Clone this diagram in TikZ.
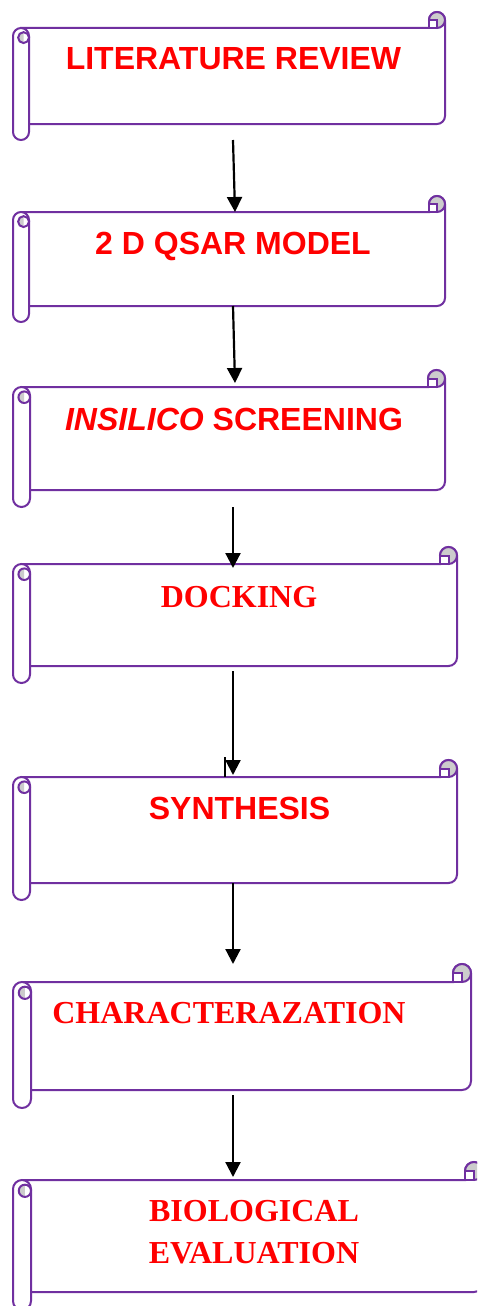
\documentclass[tikz,border=0pt]{standalone}
\usepackage{fontspec}
\setmainfont{Liberation Serif}
\setsansfont{Liberation Sans}
\usepackage{xcolor}
\usetikzlibrary{arrows.meta}

\definecolor{scrollline}{HTML}{7030A0}
\definecolor{curlfill}{HTML}{CCCCCC}
\definecolor{steptext}{HTML}{FF0000}

% horizontal scroll: #1 left, #2 top, #3 right, #4 bottom, #5 curl size (y counted downwards)
\newcommand{\hscroll}[5]{%
  \pgfmathsetmacro{\scrL}{#1}\pgfmathsetmacro{\scrT}{#2}%
  \pgfmathsetmacro{\scrR}{#3}\pgfmathsetmacro{\scrB}{#4}%
  \pgfmathsetmacro{\scrC}{#5}\pgfmathsetmacro{\scrH}{#5/2}%
  \pgfmathsetmacro{\scrQ}{0.34*#5}%
  \begin{scope}[draw=scrollline, line width=2pt]
    % band with rounded lower right corner
    \filldraw[fill=white] (\scrL+\scrH,-\scrT-\scrC) -- (\scrR-\scrC,-\scrT-\scrC)
      -- (\scrR-\scrC,-\scrT-\scrH) arc[start angle=180, end angle=0, radius=\scrH]
      -- (\scrR,-\scrB+\scrC+\scrH) arc[start angle=0, end angle=-90, radius=\scrH]
      -- (\scrL+\scrH,-\scrB+\scrC) -- cycle;
    % top right curl
    \filldraw[fill=curlfill] (\scrR-\scrH,-\scrT-\scrH) circle[radius=\scrH];
    \filldraw[fill=white] (\scrR-\scrC,-\scrT-\scrH) rectangle (\scrR-\scrH,-\scrT-\scrC);
    % left roll
    \filldraw[fill=white] (\scrL,-\scrT-\scrC-\scrH) arc[start angle=180, end angle=0, radius=\scrH]
      -- (\scrL+\scrC,-\scrB+\scrH) arc[start angle=0, end angle=-180, radius=\scrH] -- cycle;
    \fill[curlfill] (\scrL+\scrC-\scrQ,-\scrT-1.6*\scrC+\scrQ)
      arc[start angle=90, end angle=270, radius=\scrQ] -- cycle;
    \draw (\scrL+\scrC-\scrQ,-\scrT-1.6*\scrC) circle[radius=\scrQ];
  \end{scope}%
}

\begin{document}
\begin{tikzpicture}[
    x=1pt, y=1pt,
    sanslabel/.style={anchor=base, text=steptext, inner sep=0pt, font=\sffamily\bfseries\fontsize{32}{38}\selectfont},
    seriflabel/.style={anchor=base, text=steptext, inner sep=0pt, font=\rmfamily\bfseries\fontsize{32}{42.5}\selectfont},
    arrow/.style={-{Triangle[width=15pt, length=15pt]}, line width=2.2pt}
]
\useasboundingbox (0,0) rectangle (477,-1306);
\clip (0,0) rectangle (477,-1306);

% Scrolls
\hscroll{13}{12}{445}{140}{16}
\hscroll{13}{196}{445}{322}{16}
\hscroll{13}{370}{445}{507}{17}
\hscroll{13}{547}{457}{683}{17}
\hscroll{13}{760}{457}{900}{17}
\hscroll{13}{964}{471}{1108}{18}
\hscroll{13}{1162}{483}{1310}{18}

% Step labels
\node[sanslabel] (lit) at (233.5,-70) {LITERATURE REVIEW};
\node[sanslabel] (qsar) at (233,-254) {2 D QSAR MODEL};
\node[sanslabel] (insilico) at (234,-430) {\itshape INSILICO\upshape{} SCREENING};
\node[seriflabel] (dock) at (239,-607) {DOCKING};
\node[sanslabel] (synth) at (239.5,-819) {SYNTHESIS};
\node[seriflabel] (charac) at (229,-1023) {CHARACTERAZATION};
\node[seriflabel, anchor=center, align=center] (bio) at (254,-1232) {BIOLOGICAL\\EVALUATION};

% Arrow ends
\coordinate (lit-out) at (233,-140);
\coordinate (qsar-in) at (235,-212);
\coordinate (qsar-out) at (233,-306);
\coordinate (insilico-in) at (235,-383);
\coordinate (insilico-out) at (233,-507);
\coordinate (dock-in) at (233,-568);
\coordinate (dock-out) at (233,-671);
\coordinate (synth-in) at (233,-775);
\coordinate (synth-out) at (233,-883);
\coordinate (charac-in) at (233,-964);
\coordinate (charac-out) at (233,-1095);
\coordinate (bio-in) at (233,-1177);
\coordinate (tick) at (225,-757);

% Arrows
\draw[arrow] (lit-out) -- (qsar-in);
\draw[arrow] (qsar-out) -- (insilico-in);
\draw[arrow] (insilico-out) -- (dock-in);
\draw[arrow] (dock-out) -- (synth-in);
\draw[arrow] (synth-out) -- (charac-in);
\draw[arrow] (charac-out) -- (bio-in);
\draw[line width=1.8pt] (tick) -- ++(0,-20);

\end{tikzpicture}
\end{document}
